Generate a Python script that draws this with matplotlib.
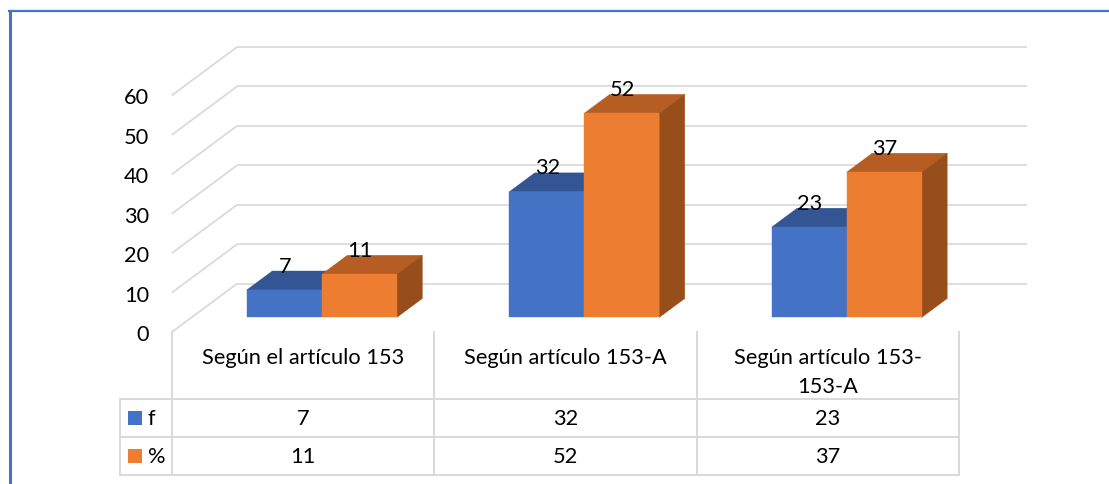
import matplotlib
matplotlib.use("Agg")
import matplotlib.pyplot as plt
from matplotlib.patches import Polygon, Rectangle
from matplotlib.transforms import blended_transform_factory

categories = ["Según el artículo 153", "Según artículo 153-A", "Según artículo 153-\n153-A"]
f_values = [7, 32, 23]
pct_values = [11, 52, 37]
y_ticks = [0, 10, 20, 30, 40, 50, 60]

W, H = 1109, 485
FONT = "Lato"
FS = 15.7
GRID = "#D9D9D9"
BLUE = ("#4472C4", "#335593")
ORANGE = ("#ED7D31", "#B55D22", "#974E1A")

plt.rcParams["font.family"] = FONT
fig = plt.figure(figsize=(W / 100, H / 100), dpi=100, facecolor="white")

# pixel overlay used for the frame and the data-table layout
px = fig.add_axes([0, 0, 1, 1], zorder=3)
px.set_xlim(0, W)
px.set_ylim(H - 0.7, -0.7)
px.axis("off")
px.patch.set_alpha(0)

# front plane of the 3D chart: categories along x, values along y
L, R, Y0, Y60 = 171.7, 959.0, 333.2, 96.5
ax = fig.add_axes([L / W, 1 - Y0 / H, (R - L) / W, (Y0 - Y60) / H], zorder=2)
ax.set_xlim(-0.5, 2.5)
ax.set_ylim(0, 60)
ax.patch.set_alpha(0)
for s in ax.spines.values():
    s.set_visible(False)
ax.set_xticks([])
ax.set_yticks(y_ticks)
ax.tick_params(axis="y", length=0, pad=16.3, labelsize=FS, labelcolor="black")

# depth vector of the floor, in data units
DX = 65.3 / ((R - L) / 3)
DY = 48.5 / ((Y0 - Y60) / 60)
RIGHT_END = (1027.0 - L) / ((R - L) / 3) - 0.5


def proj(x, y, d):
    return (x + d * DX, y + d * DY)


# walls
gl = dict(color=GRID, lw=1.25, zorder=1, clip_on=False, solid_capstyle="butt")
for v in y_ticks:
    a, b = proj(-0.5, v, 0), proj(-0.5, v, 1)
    ax.plot([a[0], b[0]], [a[1], b[1]], **gl)
    ax.plot([b[0], RIGHT_END], [b[1], b[1]], **gl)

# bars
BW = 75.0 / ((R - L) / 3)
BAR_SHIFT = -1.0 / ((R - L) / 3)
D0, D1 = 0.305, 0.695
PERSPECTIVE = 0.995


def poly(points, color, z):
    ax.add_patch(Polygon(points, closed=True, facecolor=color, edgecolor=color,
                         lw=0.3, zorder=z, clip_on=False))


def bar3d(x0, v, colors, z):
    x1 = x0 + BW
    h = v * PERSPECTIVE
    poly([proj(x0, 0, D0), proj(x1, 0, D0), proj(x1, h, D0), proj(x0, h, D0)], colors[0], z + 2)
    poly([proj(x0, h, D0), proj(x1, h, D0), proj(x1, h, D1), proj(x0, h, D1)], colors[1], z + 1)
    if len(colors) > 2:
        poly([proj(x1, 0, D0), proj(x1, 0, D1), proj(x1, h, D1), proj(x1, h, D0)], colors[2], z + 1)


for i, (fv, pv) in enumerate(zip(f_values, pct_values)):
    c = i + BAR_SHIFT
    bar3d(c - BW, fv, BLUE, 4)
    bar3d(c, pv, ORANGE, 8)
    for x0, v in ((c - BW, fv), (c, pv)):
        p = proj(x0 + BW / 2, v * PERSPECTIVE, D0)
        ax.annotate(str(v), p, xytext=(0.6, 17.5), textcoords="offset points",
                    ha="center", va="center", fontsize=FS, color="black",
                    zorder=20, annotation_clip=False)

# data table
line = dict(color=GRID, lw=1.4, solid_capstyle="projecting")
TL, T0, T1, T2, T3 = 120.0, 332.7, 399.0, 437.0, 475.0
col_edges = [L + i * (R - L) / 3 for i in range(4)]
for x in col_edges:
    px.plot([x, x], [T0, T3], **line)
px.plot([TL, TL], [T1, T3], **line)
for y in (T1, T2, T3):
    px.plot([TL, R], [y, y], **line)

mix = blended_transform_factory(ax.transData, px.transData)
for i, c in enumerate(categories):
    ax.text(i, 357, c.split("\n")[0], transform=mix, ha="center", va="center", fontsize=FS, clip_on=False)
    if "\n" in c:
        ax.text(i, 386, c.split("\n")[1], transform=mix, ha="center", va="center", fontsize=FS, clip_on=False)
    ax.text(i, 418, str(f_values[i]), transform=mix, ha="center", va="center", fontsize=FS, clip_on=False)
    ax.text(i, 456, str(pct_values[i]), transform=mix, ha="center", va="center", fontsize=FS, clip_on=False)

px.add_patch(Rectangle((128, 411), 14, 14, facecolor=BLUE[0], edgecolor="none"))
px.add_patch(Rectangle((128, 449), 14, 14, facecolor=ORANGE[0], edgecolor="none"))
px.text(148, 418, "f", ha="left", va="center", fontsize=FS)
px.text(148, 456, "%", ha="left", va="center", fontsize=FS)

# outer frame
px.plot([9.5, 9.5], [11, H], color="#4472C4", lw=2.2, solid_capstyle="butt")
px.plot([8.4, W], [11, 11], color="#4472C4", lw=1.6, solid_capstyle="butt")

fig.savefig("out.png", dpi=100, facecolor="white")
